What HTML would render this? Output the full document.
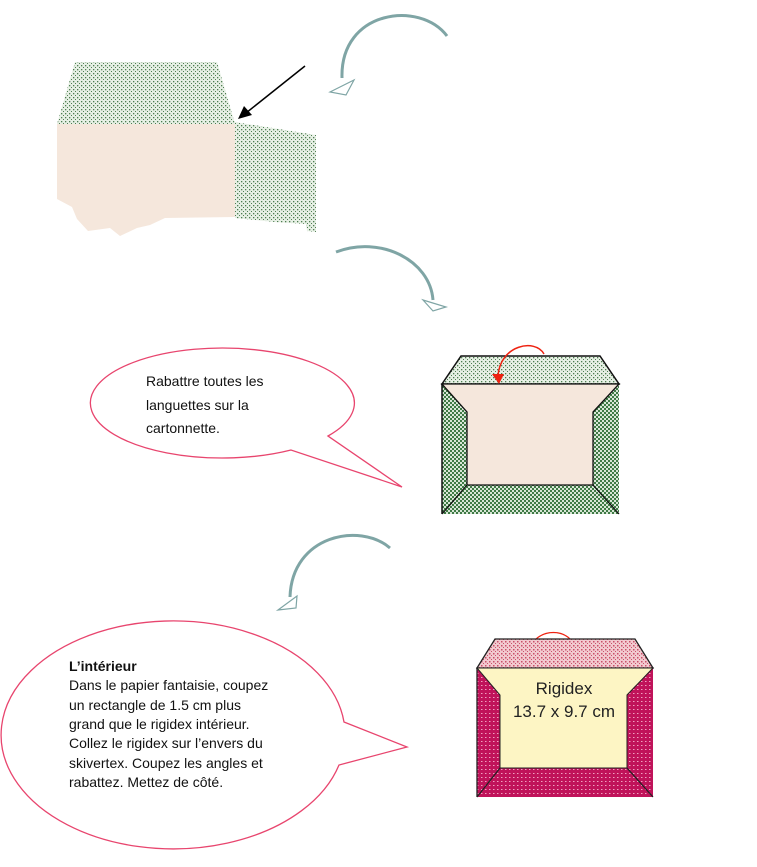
<!DOCTYPE html>
<html><head><meta charset="utf-8"><style>
body{margin:0;background:#fff;}
svg{display:block}
text{font-family:"Liberation Sans",sans-serif;}
</style></head><body>
<svg width="757" height="867" viewBox="0 0 757 867" xmlns="http://www.w3.org/2000/svg">
<defs>
<pattern id="gdot" width="4" height="4" patternUnits="userSpaceOnUse"><rect width="4" height="4" fill="#e6efe4"/><rect x="1" y="1" width="1.3" height="1.3" fill="#4d7d50"/><rect x="3" y="3" width="1.3" height="1.3" fill="#4d7d50"/></pattern>
<pattern id="gchk" width="4" height="4" patternUnits="userSpaceOnUse"><rect width="4" height="4" fill="#d8e6d6"/><rect width="2" height="2" fill="#3f7a45"/><rect x="2" y="2" width="2" height="2" fill="#3f7a45"/></pattern>
<pattern id="pdot" width="4" height="4" patternUnits="userSpaceOnUse"><rect width="4" height="4" fill="#f2c9cf"/><rect x="1" y="1" width="1.5" height="1.5" fill="#c9506a"/><rect x="3" y="3" width="1.3" height="1.3" fill="#c9506a"/></pattern>
<pattern id="mdot" width="4" height="4" patternUnits="userSpaceOnUse"><rect width="4" height="4" fill="#c0135a"/><rect x="1" y="1" width="1.5" height="1" fill="#f0a0c0"/></pattern>
</defs>

<!-- diagram 1 -->
<polygon points="75,62 217,62 235,124 57,124" fill="url(#gdot)"/>
<path d="M57,124 L235,124 L235,217 L165,218 L150,225 L137,228 L120,236 L110,228 L88,231 L77,219 L72,207 L57,199 Z" fill="#f5e7dc"/>
<polygon points="235,122 316,135 316,232 307,231 306,224 275,222 235,218" fill="url(#gdot)"/>
<line x1="305" y1="66" x2="246" y2="113" stroke="#000" stroke-width="1.5"/>
<polygon points="238,119 244,106 252,115" fill="#000"/>

<!-- curved arrows -->
<path d="M447,36 C420,0 340,10 342,78" fill="none" stroke="#7fa5a5" stroke-width="3"/>
<polygon points="330,92 354,80 346,95" fill="#fff" stroke="#7fa5a5" stroke-width="1.2"/>
<path d="M336,252 C380,235 430,260 433,300" fill="none" stroke="#7fa5a5" stroke-width="3"/>
<polygon points="423,300 446,307 433,311" fill="#fff" stroke="#7fa5a5" stroke-width="1.2"/>
<path d="M390,548 C360,522 292,535 290,597" fill="none" stroke="#7fa5a5" stroke-width="3"/>
<polygon points="278,610 297,596 296,608" fill="#fff" stroke="#7fa5a5" stroke-width="1.2"/>

<!-- bubble 1 -->
<path d="M328,436 A132,55 0 1 0 291,450 L402,487 Z" fill="#fff" stroke="#e8456e" stroke-width="1.3"/>
<text font-size="14" fill="#111"><tspan x="146" y="386">Rabattre toutes les</tspan><tspan x="146" y="410">languettes sur la</tspan><tspan x="146" y="433">cartonnette.</tspan></text>

<!-- diagram 2 -->
<polygon points="461,356 600,356 619,384 442,384" fill="url(#gdot)" stroke="#111" stroke-width="1.5"/>
<rect x="442" y="384" width="177" height="130" fill="url(#gchk)"/>
<polygon points="442,384 619,384 593,412 593,485 467,485 467,412" fill="#f5e7dc" stroke="#111" stroke-width="1.3"/>
<line x1="467" y1="485" x2="442" y2="514" stroke="#111" stroke-width="1.3"/>
<line x1="593" y1="485" x2="619" y2="514" stroke="#111" stroke-width="1.3"/>
<polyline points="442,514 442,384 M619,384 619,514" fill="none" stroke="#111" stroke-width="1.5"/>
<path d="M544,354 C535,338 500,345 498,376" fill="none" stroke="#e21" stroke-width="1.5"/>
<polygon points="492,374 504,374 499,384" fill="#e21"/>

<!-- bubble 2 -->
<path d="M344,722 A172,114 0 1 0 339,765 L407,747 Z" fill="#fff" stroke="#e8456e" stroke-width="1.3"/>
<text font-size="14" fill="#111"><tspan x="69" y="671" font-weight="bold">L’intérieur</tspan><tspan x="69" y="690">Dans le papier fantaisie, coupez</tspan><tspan x="69" y="710">un rectangle de 1.5 cm plus</tspan><tspan x="69" y="729">grand que le rigidex intérieur.</tspan><tspan x="69" y="748">Collez le rigidex sur l’envers du</tspan><tspan x="69" y="768">skivertex. Coupez les angles et</tspan><tspan x="69" y="787">rabattez. Mettez de côté.</tspan></text>

<!-- diagram 3 -->
<path d="M535,640 C545,630 562,630 571,640" fill="none" stroke="#e21" stroke-width="1.3"/>
<polygon points="495,639 635,639 653,668 477,668" fill="url(#pdot)" stroke="#222" stroke-width="1.3"/>
<rect x="477" y="668" width="176" height="129" fill="url(#mdot)"/>
<polygon points="477,668 653,668 627,695 627,768 500,768 500,695" fill="#fdf5c4" stroke="#222" stroke-width="1"/>
<line x1="500" y1="768" x2="477" y2="797" stroke="#222" stroke-width="1.2"/>
<line x1="627" y1="768" x2="653" y2="797" stroke="#222" stroke-width="1.2"/>
<polyline points="477,797 477,668 M653,668 653,797" fill="none" stroke="#222" stroke-width="1.3"/>
<text x="564" y="694" font-size="17" text-anchor="middle" fill="#222">Rigidex</text>
<text x="564" y="717" font-size="17" text-anchor="middle" fill="#222">13.7 x 9.7 cm</text>
</svg>
</body></html>
